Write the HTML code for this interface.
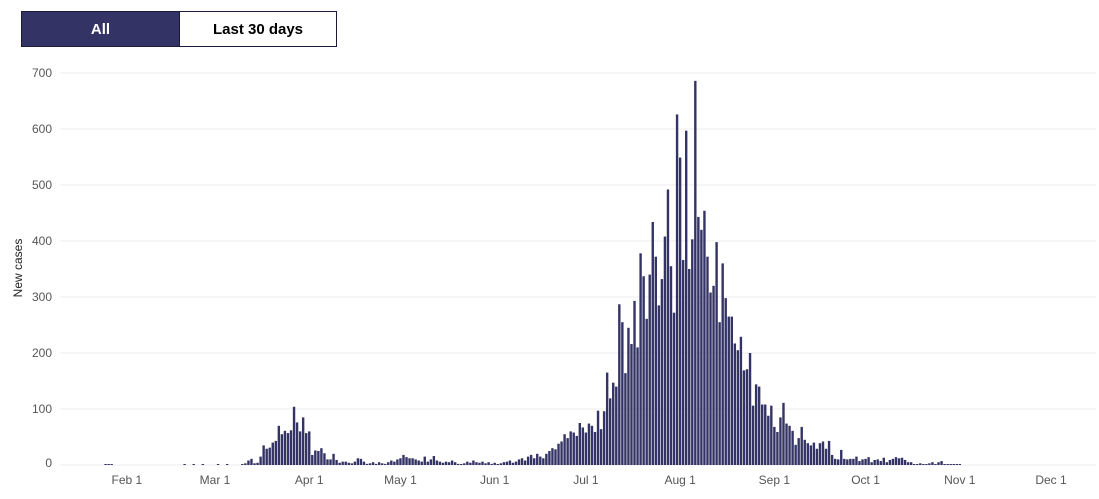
<!DOCTYPE html>
<html><head><meta charset="utf-8">
<style>
body{margin:0;background:#fff;font-family:"Liberation Sans",sans-serif;}
#wrap{position:relative;width:1099px;height:499px;overflow:hidden;}
.btn{position:absolute;top:11px;height:36px;box-sizing:border-box;border:1px solid #1a1a3a;font-weight:bold;font-size:15px;display:flex;align-items:center;justify-content:center;cursor:pointer;}
</style></head><body>
<div id="wrap">
<div class="btn" style="left:21px;width:159px;background:#333366;color:#fff;">All</div>
<div class="btn" style="left:179px;width:158px;background:#fff;color:#000;">Last 30 days</div>
<svg id="chart" width="1099" height="499" style="position:absolute;left:0;top:0;pointer-events:none"></svg>
</div>
<script>
const startDay = 69; // day-of-year index (Jan 1 = 0), 2020 => Mar 9
const values = [1,3,8,11,3,4,15,35,29,31,40,43,70,55,61,57,62,104,76,60,85,57,60,18,26,25,30,21,10,10,20,9,4,6,6,4,3,6,12,11,6,
2,3,5,2,5,3,2,5,8,6,10,12,
18,14,12,12,10,8,6,15,6,10,16,8,6,4,6,5,8,5,2,0,3,6,4,8,5,4,6,3,5,2,4,
0,3,5,6,8,4,6,10,12,8,15,18,12,20,15,12,20,25,30,28,38,42,55,48,60,58,52,75,
67,58,74,70,59,97,64,96,165,119,147,140,287,255,164,245,216,293,210,378,337,261,340,434,372,285,332,408,492,355,272,626,549,366,597,350,403,686,
443,420,454,372,308,320,398,255,360,298,265,265,217,205,229,169,171,200,106,144,140,108,108,88,106,68,59,85,
111,74,70,61,36,48,68,45,39,35,40,29,39,42,29,43,18,11,10,27,11,10,11,11,15,7,10,11,14,5,9,10,7,13,5,9,11,14,12,13,9,5,5,0,0,3,0,0,3,5,0,5,7,0,0,1,0,0,1];
const earlyDays = [24,25,26,50,53,56,61,64];
const earlyValues = [1,1,1,1,1,1,1,1];
const yTicks = [0,100,200,300,400,500,600,700];
const xTickLabels = ["Feb 1","Mar 1","Apr 1","May 1","Jun 1","Jul 1","Aug 1","Sep 1","Oct 1","Nov 1","Dec 1"];
const xTickDays = [31,60,91,121,152,182,213,244,274,305,335];

const NS="http://www.w3.org/2000/svg";
const svg=document.getElementById('chart');
const base=465, pxPer=0.56;
const y=v=>base-v*pxPer;
const x=d=>32.6+d*3.04;
function mk(t,a){const e=document.createElementNS(NS,t);for(const k in a)e.setAttribute(k,a[k]);svg.appendChild(e);return e;}
yTicks.forEach(v=>{
  const l=mk('line',{x1:60,x2:1096,y1:y(v),y2:y(v),stroke:'#ececec','stroke-width':1});
  
  
  const t=mk('text',{x:52,y:(v===0?y(v)-2:y(v))+4,'text-anchor':'end','font-size':12,fill:'#555','font-family':'Liberation Sans, sans-serif'});
  t.textContent=v;
  
  
});
const yl=mk('text',{x:0,y:0,'text-anchor':'middle','font-size':12,fill:'#222',transform:'translate(22,268) rotate(-90)','font-family':'Liberation Sans, sans-serif'});
yl.textContent='New cases';


xTickLabels.forEach((s,i)=>{
  const t=mk('text',{x:x(xTickDays[i]),y:484,'text-anchor':'middle','font-size':12,fill:'#555','font-family':'Liberation Sans, sans-serif'});
  t.textContent=s;
  
  
});
function bar(d,v){
  const h=Math.max(v*pxPer,1);
  const r=mk('rect',{x:x(d)-1.2,y:base-h,width:2.4,height:h,fill:'#333366'});
  
  
}
earlyDays.forEach((d,i)=>bar(d,earlyValues[i]));
values.forEach((v,i)=>bar(startDay+i,v));
</script>
</body></html>
